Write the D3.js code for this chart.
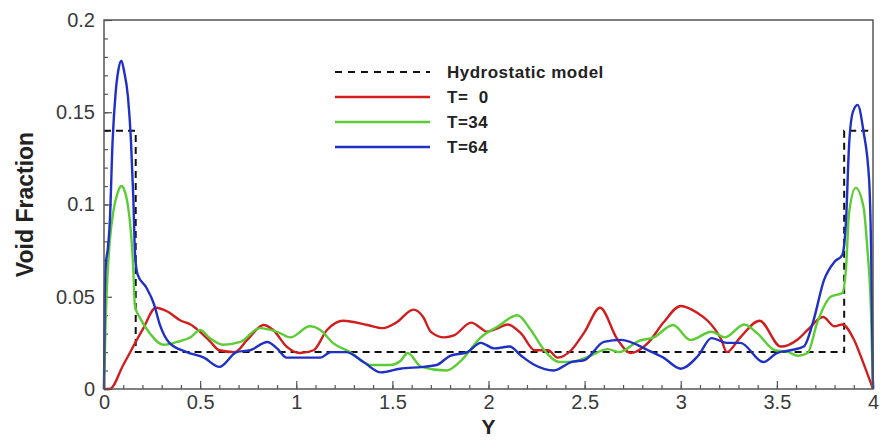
<!DOCTYPE html>
<html>
<head>
<meta charset="utf-8">
<script src="https://cdn.jsdelivr.net/npm/d3@7"></script>
<style>
  body { margin: 0; background: #fff; }
  text { font-family: 'Liberation Sans', Arial, sans-serif; }
  .tick text { font-size: 20px; fill: #3a3a3a; }
  .axis path { display: none; }
  .axis line { stroke: #555; stroke-width: 1.2; }
</style>
</head>
<body>
<div id="chart"></div>
<script>
// svg nominal area
var svgWidth = 880;
var svgHeight = 440;

// margin around plot frame
var margin = { top: 20, right: 7, bottom: 51, left: 104 };

var chartWidth = svgWidth - margin.left - margin.right;
var chartHeight = svgHeight - margin.top - margin.bottom;

// ---- data: [Y, void fraction] ----
var hydroX = [0, 0.165, 0.165, 3.85, 3.85, 4];
var hydroV = [0.14, 0.14, 0.02, 0.02, 0.14, 0.14];

var t0 = [[0,0],[0.03,0],[0.1,0.013],[0.2,0.032],[0.27,0.044],[0.33,0.042],[0.4,0.037],[0.45,0.035],[0.5,0.031],[0.55,0.026],[0.6,0.021],[0.68,0.02],[0.745,0.0266],[0.83,0.0347],[0.88,0.032],[0.95,0.023],[1.02,0.0195],[1.09,0.021],[1.16,0.032],[1.245,0.037],[1.37,0.0347],[1.45,0.033],[1.52,0.036],[1.61,0.043],[1.66,0.039],[1.7,0.031],[1.77,0.028],[1.82,0.029],[1.91,0.036],[1.96,0.033],[1.99,0.031],[2.05,0.033],[2.1,0.035],[2.17,0.03],[2.24,0.021],[2.31,0.021],[2.36,0.017],[2.43,0.021],[2.5,0.031],[2.58,0.044],[2.67,0.027],[2.74,0.0195],[2.83,0.025],[2.91,0.036],[3,0.045],[3.09,0.041],[3.14,0.037],[3.21,0.027],[3.24,0.02],[3.31,0.028],[3.41,0.037],[3.52,0.023],[3.61,0.027],[3.66,0.032],[3.74,0.039],[3.8,0.034],[3.84,0.035],[3.9,0.027],[3.95,0.014],[4,0]];

var t34 = [[0,0],[0.008,0.035],[0.015,0.055],[0.03,0.08],[0.05,0.097],[0.07,0.106],[0.09,0.11],[0.105,0.108],[0.125,0.099],[0.14,0.085],[0.152,0.066],[0.161,0.045],[0.19,0.038],[0.24,0.03],[0.31,0.024],[0.38,0.0255],[0.45,0.028],[0.5,0.032],[0.55,0.0276],[0.62,0.024],[0.71,0.0255],[0.81,0.033],[0.9,0.031],[0.97,0.028],[1.07,0.034],[1.125,0.032],[1.19,0.025],[1.28,0.02],[1.385,0.013],[1.49,0.013],[1.54,0.015],[1.58,0.0195],[1.65,0.012],[1.78,0.01],[1.86,0.0157],[1.96,0.028],[2.05,0.034],[2.15,0.04],[2.22,0.032],[2.29,0.021],[2.37,0.0146],[2.45,0.015],[2.53,0.018],[2.62,0.0216],[2.68,0.02],[2.78,0.026],[2.86,0.028],[2.96,0.0347],[3.05,0.0266],[3.16,0.031],[3.23,0.028],[3.33,0.035],[3.4,0.03],[3.49,0.021],[3.56,0.02],[3.61,0.018],[3.66,0.0195],[3.71,0.036],[3.78,0.05],[3.84,0.052],[3.86,0.066],[3.875,0.095],[3.91,0.109],[3.95,0.099],[3.97,0.077],[3.99,0.041],[4,0]];

var t64 = [[0,0],[0.004,0.05],[0.01,0.068],[0.02,0.076],[0.03,0.09],[0.045,0.135],[0.06,0.16],[0.075,0.173],[0.09,0.178],[0.105,0.172],[0.125,0.158],[0.14,0.135],[0.152,0.105],[0.162,0.072],[0.175,0.062],[0.22,0.055],[0.26,0.046],[0.29,0.035],[0.34,0.025],[0.43,0.02],[0.52,0.017],[0.6,0.012],[0.69,0.02],[0.76,0.021],[0.85,0.0255],[0.9,0.022],[0.95,0.017],[1.02,0.017],[1.125,0.017],[1.18,0.02],[1.26,0.02],[1.35,0.0146],[1.44,0.009],[1.54,0.011],[1.66,0.012],[1.73,0.013],[1.8,0.018],[1.89,0.02],[1.96,0.025],[2.03,0.022],[2.11,0.023],[2.17,0.018],[2.24,0.013],[2.34,0.01],[2.43,0.0146],[2.5,0.0157],[2.6,0.0255],[2.69,0.0266],[2.83,0.021],[2.91,0.017],[3,0.011],[3.09,0.018],[3.16,0.0276],[3.24,0.025],[3.31,0.025],[3.43,0.0146],[3.5,0.0195],[3.57,0.021],[3.64,0.023],[3.69,0.037],[3.745,0.059],[3.8,0.069],[3.84,0.0726],[3.86,0.092],[3.875,0.131],[3.895,0.15],[3.92,0.154],[3.95,0.14],[3.98,0.113],[3.99,0.077],[4,0]];

// ticks and labels
var xTicks = [0, 0.5, 1, 1.5, 2, 2.5, 3, 3.5, 4];
var xTickLabels = ['0', '0.5', '1', '1.5', '2', '2.5', '3', '3.5', '4'];
var yTicks = [0, 0.05, 0.1, 0.15, 0.2];
var yTickLabels = ['0', '0.05', '0.1', '0.15', '0.2'];

var legendNames = ['Hydrostatic model', 'T=  0', 'T=34', 'T=64'];
var seriesColors = ['#111111', '#d01e1e', '#5ccc34', '#2030c4'];

// -----------------------------------------------

var svg = d3.select('#chart')
    .append('svg')
    .attr('width', svgWidth)
    .attr('height', svgHeight);

var chartGroup = svg.append('g')
    .attr('transform', `translate(${margin.left}, ${margin.top})`);

var xScale = d3.scaleLinear().domain([0, 4]).range([0, chartWidth]);
var yScale = d3.scaleLinear().domain([0, 0.2]).range([chartHeight, 0]);

// minor ticks (inward)
chartGroup.append('g')
    .attr('class', 'axis')
    .attr('transform', `translate(0, ${chartHeight})`)
    .call(d3.axisBottom(xScale).tickValues(d3.range(0, 41).map(d => d / 10)).tickSizeInner(-4).tickSizeOuter(0).tickFormat(''));
chartGroup.append('g')
    .attr('class', 'axis')
    .call(d3.axisLeft(yScale).tickValues(d3.range(0, 21).map(d => d / 100)).tickSizeInner(-4).tickSizeOuter(0).tickFormat(''));

// major ticks with labels
chartGroup.append('g')
    .attr('class', 'axis')
    .attr('transform', `translate(0, ${chartHeight})`)
    .call(d3.axisBottom(xScale).tickValues(xTicks).tickSizeInner(-8).tickSizeOuter(0).tickPadding(6)
        .tickFormat((d, i) => xTickLabels[i]));
chartGroup.append('g')
    .attr('class', 'axis')
    .call(d3.axisLeft(yScale).tickValues(yTicks).tickSizeInner(-8).tickSizeOuter(0).tickPadding(9)
        .tickFormat((d, i) => yTickLabels[i]));

// series lines
var line = d3.line()
    .x(d => xScale(d[0]))
    .y(d => yScale(d[1]))
    .curve(d3.curveMonotoneX);

var hydroLine = d3.line()
    .x((d, i) => xScale(hydroX[i]))
    .y((d, i) => yScale(hydroV[i]));

chartGroup.append('path')
    .datum(hydroV)
    .attr('d', hydroLine)
    .attr('fill', 'none')
    .attr('stroke', seriesColors[0])
    .attr('stroke-width', 2)
    .attr('stroke-dasharray', '7,5');

[t0, t34, t64].forEach((s, i) => {
    chartGroup.append('path')
        .datum(s)
        .attr('d', line)
        .attr('fill', 'none')
        .attr('stroke', seriesColors[i + 1])
        .attr('stroke-width', 2.4)
        .attr('stroke-linejoin', 'round');
});

// frame
chartGroup.append('rect')
    .attr('width', chartWidth)
    .attr('height', chartHeight)
    .attr('fill', 'none')
    .attr('stroke', '#555')
    .attr('stroke-width', 1.5);

// legend
var legend = svg.append('g').attr('transform', 'translate(335, 72)');
legendNames.forEach((name, i) => {
    var row = legend.append('g').attr('transform', `translate(0, ${i * 25})`);
    row.append('line')
        .attr('x1', 0).attr('x2', 95)
        .attr('stroke', seriesColors[i])
        .attr('stroke-width', i === 0 ? 2 : 2.4)
        .attr('stroke-dasharray', i === 0 ? '7,6' : null);
    row.append('text')
        .attr('x', 112)
        .attr('dy', '0.35em')
        .attr('font-size', 17)
        .attr('font-weight', 'bold')
        .attr('letter-spacing', 0.5)
        .attr('fill', '#222')
        .attr('xml:space', 'preserve')
        .style('white-space', 'pre')
        .text(name);
});

// axis titles
svg.append('text')
    .attr('transform', `translate(33, ${margin.top + chartHeight / 2}) rotate(-90)`)
    .attr('text-anchor', 'middle')
    .attr('font-size', 23)
    .attr('font-weight', 'bold')
    .attr('fill', '#222')
    .text('Void Fraction');

svg.append('text')
    .attr('x', margin.left + chartWidth / 2)
    .attr('y', 434)
    .attr('text-anchor', 'middle')
    .attr('font-size', 21)
    .attr('font-weight', 'bold')
    .attr('fill', '#222')
    .text('Y');
</script>
</body>
</html>
